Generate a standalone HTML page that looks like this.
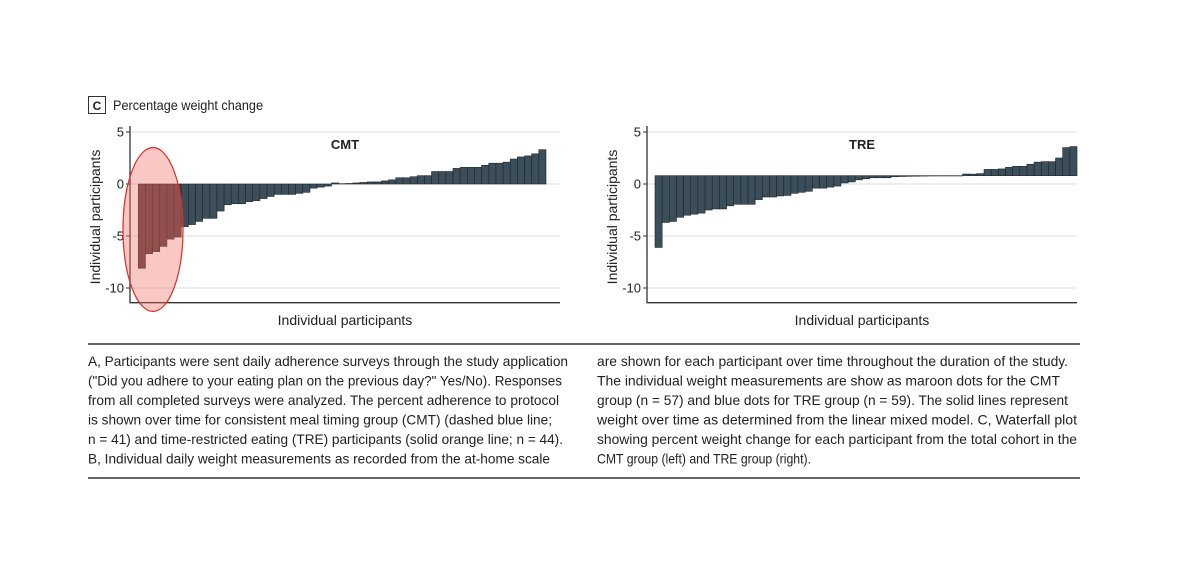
<!DOCTYPE html>
<html><head><meta charset="utf-8"><style>
html,body{margin:0;padding:0;background:#fff;}
svg{display:block;font-family:"Liberation Sans",sans-serif;}
</style></head><body>
<svg id="fig" width="1200" height="586" viewBox="0 0 1200 586">
<rect x="88.5" y="96.5" width="17" height="17" fill="none" stroke="#333"/>
<text x="97" y="110" font-size="12" font-weight="bold" text-anchor="middle" fill="#222">C</text>
<text x="113" y="110" font-size="14" fill="#222" textLength="150" lengthAdjust="spacingAndGlyphs">Percentage weight change</text>
<g id="cmt"></g>
<g id="tre"></g>
<line x1="88" y1="344" x2="1080" y2="344" stroke="#333" stroke-width="1.5"/>
<line x1="88" y1="478" x2="1080" y2="478" stroke="#333" stroke-width="1.5"/>
<g font-size="14" fill="#222">
<text x="88" y="366" textLength="480" lengthAdjust="spacingAndGlyphs">A, Participants were sent daily adherence surveys through the study application</text>
<text x="88" y="385.5" textLength="474" lengthAdjust="spacingAndGlyphs">("Did you adhere to your eating plan on the previous day?" Yes/No). Responses</text>
<text x="88" y="405" textLength="471" lengthAdjust="spacingAndGlyphs">from all completed surveys were analyzed. The percent adherence to protocol</text>
<text x="88" y="424.5" textLength="464" lengthAdjust="spacingAndGlyphs">is shown over time for consistent meal timing group (CMT) (dashed blue line;</text>
<text x="88" y="444" textLength="475" lengthAdjust="spacingAndGlyphs">n = 41) and time-restricted eating (TRE) participants (solid orange line; n = 44).</text>
<text x="88" y="463.5" textLength="462" lengthAdjust="spacingAndGlyphs">B, Individual daily weight measurements as recorded from the at-home scale</text>
</g>
<g font-size="14" fill="#222">
<text x="597" y="366" textLength="471" lengthAdjust="spacingAndGlyphs">are shown for each participant over time throughout the duration of the study.</text>
<text x="597" y="385.5" textLength="463" lengthAdjust="spacingAndGlyphs">The individual weight measurements are show as maroon dots for the CMT</text>
<text x="597" y="405" textLength="471" lengthAdjust="spacingAndGlyphs">group (n = 57) and blue dots for TRE group (n = 59). The solid lines represent</text>
<text x="597" y="424.5" textLength="480" lengthAdjust="spacingAndGlyphs">weight over time as determined from the linear mixed model. C, Waterfall plot</text>
<text x="597" y="444" textLength="480" lengthAdjust="spacingAndGlyphs">showing percent weight change for each participant from the total cohort in the</text>
<text x="597" y="463.5" textLength="214" lengthAdjust="spacingAndGlyphs">CMT group (left) and TRE group (right).</text>
</g>
</svg>
<script>
const cmtValues=[-8.1,-6.7,-6.5,-6.0,-5.3,-5.1,-4.1,-3.9,-3.6,-3.3,-3.3,-2.6,-2.0,-1.9,-1.9,-1.7,-1.6,-1.4,-1.2,-1.0,-1.0,-1.0,-0.9,-0.8,-0.4,-0.3,-0.2,0.1,0.03,0.05,0.1,0.15,0.2,0.2,0.3,0.4,0.6,0.6,0.7,0.8,0.8,1.2,1.2,1.2,1.5,1.6,1.6,1.6,1.8,2.0,2.0,2.1,2.4,2.6,2.7,2.9,3.3];
const treValues=[-6.1,-3.7,-3.6,-3.2,-3.0,-2.9,-2.8,-2.5,-2.4,-2.4,-2.1,-1.95,-1.95,-1.95,-1.5,-1.25,-1.25,-1.15,-1.1,-0.9,-0.8,-0.7,-0.4,-0.4,-0.3,-0.2,0.1,0.2,0.4,0.5,0.6,0.6,0.6,0.7,0.72,0.74,0.75,0.76,0.77,0.78,0.79,0.8,0.8,0.96,0.95,1.0,1.4,1.4,1.45,1.6,1.7,1.7,1.9,2.1,2.15,2.15,2.5,3.5,3.6];
const yTicks=[5,0,-5,-10];
const NS='http://www.w3.org/2000/svg';
function mk(t,a,p){const e=document.createElementNS(NS,t);for(const k in a)e.setAttribute(k,a[k]);p.appendChild(e);return e;}
function chart(g,vals,o){
  const y=v=>184-v*10.4;
  const bw=(o.barEnd-o.barStart)/vals.length;
  yTicks.forEach(t=>{
    const gl=mk('line',{x1:o.axisX,x2:o.right,y1:y(t),y2:y(t),stroke:'#ddd','stroke-width':1},g);
    
    
    const tk=mk('line',{x1:o.axisX-4,x2:o.axisX,y1:y(t),y2:y(t),stroke:'#333'},g);
    
    
    const tl=mk('text',{x:o.axisX-6,y:y(t)+4.5,'font-size':13,'text-anchor':'end',fill:'#222'},g);
    tl.textContent=String(t);
    
    
  });
  vals.forEach((v,i)=>{
    const x=o.barStart+i*bw, y0=y(o.base), y1=y(v);
    const r=mk('rect',{x:x,y:Math.min(y0,y1),width:bw,height:Math.max(Math.abs(y1-y0),0.3),fill:i<o.maroon?'#5b3a42':'#3b4e59',stroke:'#1c262c','stroke-width':0.6},g);
    
    
  });
  const ax=mk('path',{d:`M${o.axisX} 126 V302.7 H${o.right}`,fill:'none',stroke:'#333','stroke-width':1.3},g);
  
  
  const tt=mk('text',{x:o.titleX,y:149,'font-size':13,'font-weight':'bold','text-anchor':'middle',fill:'#222'},g);
  tt.textContent=o.title;
  
  
  const xt=mk('text',{x:(o.axisX+o.right)/2,y:325,'font-size':14,'text-anchor':'middle',fill:'#222'},g);
  xt.textContent='Individual participants';
  
  
  const yt=mk('text',{x:0,y:0,'font-size':14,'text-anchor':'middle',fill:'#222',transform:`translate(${o.axisX-30},217) rotate(-90)`},g);
  yt.textContent='Individual participants';
  
  
}
chart(document.getElementById('cmt'),cmtValues,{axisX:130,right:560,barStart:138.3,barEnd:546,base:0,maroon:6,title:'CMT',titleX:345});
chart(document.getElementById('tre'),treValues,{axisX:647,right:1077,barStart:655,barEnd:1077,base:0.8,maroon:0,title:'TRE',titleX:862});
const el=mk('ellipse',{cx:153,cy:229.5,rx:30,ry:82,fill:'rgba(240,110,100,0.38)',stroke:'#d9302a','stroke-width':1.2},document.getElementById('cmt'));


</script>
</body></html>
